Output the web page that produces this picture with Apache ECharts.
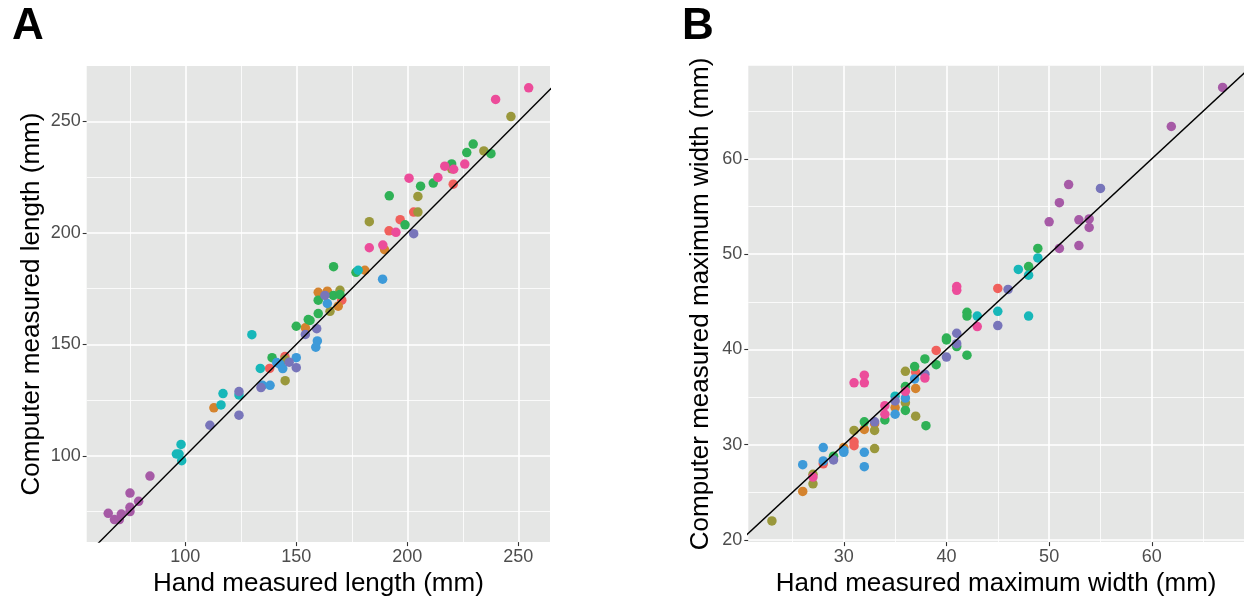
<!DOCTYPE html>
<html><head><meta charset="utf-8">
<script src="https://cdn.jsdelivr.net/npm/echarts@6/dist/echarts.min.js"></script>
<style>html,body{margin:0;padding:0;background:#fff}#c{width:1244px;height:602px}</style>
</head><body><div id="c"></div>
<script>
// ---------- Panel A : length (hand, computer) ----------
const aPurple = [[65.3,74.2],[68.1,71.4],[70.3,71.4],[71.2,73.9],[75.1,83.3],[75.1,76.9],[75.1,75.0],[79.0,79.6],[84.1,90.9]];
const aTeal = [[98.1,105.1],[96.0,100.8],[97.2,100.8],[98.4,97.8],[116.1,122.8],[117.0,127.9],[124.2,127.3],[130.0,154.3],[133.8,139.2],[177.9,183.2]];
const aSlate = [[111.1,113.7],[124.2,128.8],[124.2,118.2],[134.1,130.6],[146.8,142.0],[150.0,139.5],[154.1,154.4],[159.2,157.0],[162.9,171.9],[202.9,199.6]];
const aOrange = [[112.9,121.5],[154.1,157.4],[159.9,173.3],[164.0,173.8],[168.9,167.1],[189.8,192.4],[180.9,183.2]];
const aOlive = [[145.0,133.7],[144.9,143.2],[165.2,164.8],[169.7,174.2],[182.9,205.0],[204.8,216.3],[204.8,209.3],[220.0,228.7],[234.5,236.7],[246.7,252.1]];
const aGreen = [[139.1,144.0],[150.0,158.1],[155.4,161.1],[156.2,160.7],[159.9,163.8],[159.9,169.8],[166.7,171.9],[169.7,172.3],[166.8,184.8],[176.9,182.3],[191.9,216.6],[199.0,203.6],[206.0,220.9],[211.7,222.3],[220.0,230.9],[226.8,236.0],[229.7,239.8],[237.7,235.5]];
const aBlue = [[134.8,131.6],[138.2,131.6],[141.2,141.8],[142.7,141.0],[143.9,139.1],[150.0,144.0],[159.5,151.5],[158.8,148.7],[164.0,168.3],[188.9,179.2]];
const aRed = [[138.0,139.2],[144.9,144.5],[170.5,169.8],[191.8,200.9],[196.8,205.9],[202.9,209.3],[220.7,221.8]];
const aPink = [[182.9,193.3],[189.0,194.5],[194.9,200.2],[200.8,224.5],[213.8,224.8],[216.9,229.9],[220.9,228.5],[225.9,230.8],[239.8,259.8],[254.7,265.0]];

// ---------- Panel B : maximum width (hand, computer) ----------
const bPurple = [[66.9,67.5],[61.9,63.4],[51.9,57.3],[51.0,55.4],[50.0,53.4],[52.9,53.6],[53.9,53.7],[53.9,52.8],[51.0,50.6],[52.9,50.9]];
const bSlate = [[55.0,56.9],[46.0,46.3],[45.0,42.5],[41.0,41.7],[41.0,40.6],[40.0,39.2],[37.9,37.4],[35.0,34.6],[33.0,32.4],[29.0,28.4]];
const bGreen = [[48.9,50.6],[48.0,48.7],[42.0,43.9],[42.0,43.5],[42.0,39.4],[41.0,40.3],[40.0,41.2],[40.0,41.0],[39.0,38.4],[37.9,39.0],[36.9,38.2],[36.0,36.1],[36.0,33.6],[34.0,32.6],[32.0,32.4],[38.0,32.0],[29.0,28.8]];
const bTeal = [[48.9,49.6],[47.0,48.4],[48.0,47.8],[45.0,44.0],[48.0,43.5],[43.0,43.5],[35.0,35.1]];
const bRed = [[45.0,46.4],[39.0,39.9],[37.0,37.6],[31.0,30.3],[31.0,29.9],[28.0,28.0]];
const bPink = [[41.0,46.2],[41.0,46.6],[43.0,42.4],[31.0,36.5],[32.0,36.5],[32.0,37.3],[34.0,34.1],[34.0,33.2],[36.0,35.6],[37.9,37.0],[27.0,26.6]];
const bBlue = [[26.0,27.9],[28.0,29.7],[28.0,28.3],[30.0,29.4],[30.0,29.2],[32.0,29.2],[32.0,27.7],[35.0,33.2],[36.0,34.9],[36.9,36.9]];
const bOrange = [[26.0,25.1],[30.0,29.7],[32.0,31.6],[33.0,32.2],[35.0,33.9],[37.0,35.9]];
const bOlive = [[23.0,22.0],[27.0,25.9],[27.0,26.9],[31.0,31.5],[33.0,29.6],[33.0,31.5],[36.0,34.4],[36.0,37.7],[37.0,33.0]];

// ---------- ticks / reference lines ----------
const aMajor = [100,150,200,250];
const aMinor = [75,125,175,225];
const bMajorX = [30,40,50,60];
const bMinorX = [25,35,45,55,65];
const bMajorY = [20,30,40,50,60];
const bMinorY = [25,35,45,55,65];
const aIdentity = [[50,50],[280,280]];
const bIdentity = [[15,15],[75,75]];

const COL = {red:'#F0605C',orange:'#D4832E',olive:'#9A983C',green:'#2FB156',teal:'#17B7B9',blue:'#3D9AD9',slate:'#7875BA',purple:'#A65AA6',pink:'#EC4C9A'};
const FONT = 'Liberation Sans, Arial, Helvetica, sans-serif';

const chart = echarts.init(document.getElementById('c'), null, {renderer:'canvas'});

function axisCfg(gi, min, max, ticks, name, gap){
  return {
    gridIndex: gi, type:'value', min:min, max:max,
    axisLine:{show:false},
    splitLine:{show:false},
    axisTick:{show:true, customValues:ticks, length:4, lineStyle:{color:'#333333', width:1.1}},
    axisLabel:{customValues:ticks, color:'#4D4D4D', fontSize:18, margin:6, fontFamily:FONT},
    name:name, nameLocation:'middle', nameGap:gap,
    nameTextStyle:{fontSize:26, color:'#000', fontFamily:FONT}
  };
}
function gridSeries(xi, major, minor, majorY, minorY){
  const mk = (arr, key) => arr.map(v => { const o = {}; o[key] = v; return o; });
  return [
    {type:'scatter', xAxisIndex:xi, yAxisIndex:xi, data:[], z:1, silent:true,
     markLine:{silent:true, z:1, zlevel:0, symbol:'none', label:{show:false}, animation:false,
       lineStyle:{color:'#FFFFFF', width:0.8, type:'solid'}, emphasis:{disabled:true},
       data: mk(minor,'xAxis').concat(mk(minorY,'yAxis'))}},
    {type:'scatter', xAxisIndex:xi, yAxisIndex:xi, data:[], z:1, silent:true,
     markLine:{silent:true, z:1, zlevel:0, symbol:'none', label:{show:false}, animation:false,
       lineStyle:{color:'#FFFFFF', width:1.6, type:'solid'}, emphasis:{disabled:true},
       data: mk(major,'xAxis').concat(mk(majorY,'yAxis'))}}
  ];
}
function pts(xi, data, color){
  return {type:'scatter', xAxisIndex:xi, yAxisIndex:xi, data:data, symbolSize:9.5, z:3,
    itemStyle:{color:color, opacity:1}, silent:true};
}
function idLine(xi, data){
  return {type:'line', xAxisIndex:xi, yAxisIndex:xi, data:data, symbol:'none', clip:true, z:4,
    lineStyle:{color:'#000', width:1.4}, silent:true};
}

const series = [].concat(
  gridSeries(0, aMajor, aMinor, aMajor, aMinor),
  gridSeries(1, bMajorX, bMinorX, bMajorY, bMinorY),
  [
    pts(0,aRed,COL.red), pts(0,aOrange,COL.orange), pts(0,aOlive,COL.olive), pts(0,aGreen,COL.green),
    pts(0,aTeal,COL.teal), pts(0,aBlue,COL.blue), pts(0,aSlate,COL.slate), pts(0,aPurple,COL.purple), pts(0,aPink,COL.pink),
    pts(1,bRed,COL.red), pts(1,bOrange,COL.orange), pts(1,bOlive,COL.olive), pts(1,bGreen,COL.green),
    pts(1,bTeal,COL.teal), pts(1,bBlue,COL.blue), pts(1,bSlate,COL.slate), pts(1,bPurple,COL.purple), pts(1,bPink,COL.pink),
    idLine(0, aIdentity), idLine(1, bIdentity)
  ]
);

chart.setOption({
  animation:false,
  backgroundColor:'#FFFFFF',
  title:[
    {text:'A', left:7, top:0, textStyle:{fontSize:44, fontWeight:'bold', color:'#000', fontFamily:FONT}},
    {text:'B', left:677, top:0, textStyle:{fontSize:44, fontWeight:'bold', color:'#000', fontFamily:FONT}}
  ],
  grid:[
    {left:86.7, top:66, width:463.3, height:476.7, show:true, backgroundColor:'#E5E6E5', borderWidth:0},
    {left:748.3, top:65.7, width:495.7, height:477, show:true, backgroundColor:'#E5E6E5', borderWidth:0}
  ],
  xAxis:[
    axisCfg(0, 55.6, 264.3, aMajor, 'Hand measured length (mm)', 26),
    axisCfg(1, 20.7, 68.98, bMajorX, 'Hand measured maximum width (mm)', 26)
  ],
  yAxis:[
    axisCfg(0, 61.3, 274.8, aMajor, 'Computer measured length (mm)', 42),
    axisCfg(1, 19.78, 69.78, bMajorY, 'Computer measured maximum width (mm)', 34)
  ],
  series: series
});
</script>
</body></html>
